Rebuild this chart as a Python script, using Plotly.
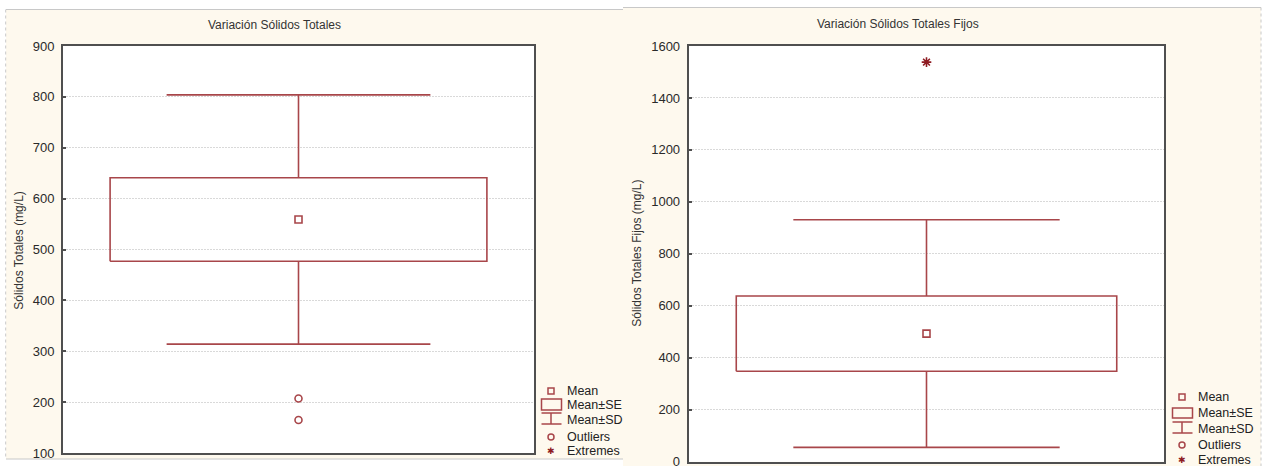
import plotly.graph_objects as go

W, H = 1270, 466

# ---------------- data ----------------
categories = ["Sólidos Totales", "Sólidos Totales Fijos"]
titles = ["Variación Sólidos Totales", "Variación Sólidos Totales Fijos"]
ytitles = ["Sólidos Totales (mg/L)", "Sólidos Totales Fijos (mg/L)"]
means = [559, 493]
se = [82, 145]
sd = [245, 438]
outliers = [[207, 165], []]
extremes = [[], [1538]]
yranges = [[100, 900], [0, 1600]]
ydticks = [100, 200]
legend_labels = ["Mean", "Mean±SE", "Mean±SD", "Outliers", "Extremes"]

RED = "#A8464A"
DARKRED = "#8E1B22"
CREAM = "#FEF9EE"
FONT = "Liberation Sans, Arial, sans-serif"


def px(x):
    return x / W


def py(y):
    return 1 - y / H


fig = go.Figure()

BOX_HW = 0.40
CAP_HW = 0.28

for i in range(2):
    xa = "x" if i == 0 else "x2"
    ya = "y" if i == 0 else "y2"
    m, s, d = means[i], se[i], sd[i]
    fig.add_trace(go.Scatter(
        x=[-BOX_HW, BOX_HW, BOX_HW, -BOX_HW, -BOX_HW],
        y=[m - s, m - s, m + s, m + s, m - s],
        mode="lines", line=dict(color=RED, width=1.6),
        xaxis=xa, yaxis=ya, hoverinfo="skip", name=categories[i]))
    fig.add_trace(go.Scatter(
        x=[0, 0, None, -CAP_HW, CAP_HW, None, 0, 0, None, -CAP_HW, CAP_HW],
        y=[m + s, m + d, None, m + d, m + d, None, m - s, m - d, None, m - d, m - d],
        mode="lines", line=dict(color=RED, width=1.6),
        xaxis=xa, yaxis=ya, hoverinfo="skip", name=categories[i]))
    fig.add_trace(go.Scatter(
        x=[0], y=[m], mode="markers",
        marker=dict(symbol="square-open", size=7, color=RED, line=dict(width=1.6, color=RED)),
        xaxis=xa, yaxis=ya, name=categories[i]))
    if outliers[i]:
        fig.add_trace(go.Scatter(
            x=[0] * len(outliers[i]), y=outliers[i], mode="markers",
            marker=dict(symbol="circle-open", size=7, color=RED, line=dict(width=1.6, color=RED)),
            xaxis=xa, yaxis=ya, name=categories[i]))
    if extremes[i]:
        fig.add_trace(go.Scatter(
            x=[0] * len(extremes[i]), y=extremes[i], mode="markers",
            marker=dict(symbol="asterisk-open", size=8, color=DARKRED, line=dict(width=1.6, color=DARKRED)),
            xaxis=xa, yaxis=ya, name=categories[i]))

shapes = []
annotations = []

# panel backgrounds
shapes.append(dict(type="rect", xref="paper", yref="paper", layer="below",
                   x0=px(6), x1=px(623), y0=py(459), y1=py(9.5),
                   fillcolor=CREAM, line=dict(width=0)))
shapes.append(dict(type="rect", xref="paper", yref="paper", layer="below",
                   x0=px(623), x1=px(1261), y0=py(470), y1=py(7.5),
                   fillcolor=CREAM, line=dict(width=0)))
# white plot areas
shapes.append(dict(type="rect", xref="paper", yref="paper", layer="below",
                   x0=px(63), x1=px(534), y0=py(453), y1=py(46),
                   fillcolor="white", line=dict(width=0)))
shapes.append(dict(type="rect", xref="paper", yref="paper", layer="below",
                   x0=px(688.7), x1=px(1164.3), y0=py(461.7), y1=py(46),
                   fillcolor="white", line=dict(width=0)))
# panel borders
for (x0, y0, x1, y1, dash) in [
    (6, 9.5, 623, 9.5, "solid"), (5.7, 9.5, 5.7, 459, "dot"), (6, 459, 623, 459, "solid"),
    (623, 7.5, 1261, 7.5, "solid"), (1261, 7.5, 1261, 466, "dot")]:
    shapes.append(dict(type="line", xref="paper", yref="paper", layer="below",
                       x0=px(x0), x1=px(x1), y0=py(y0), y1=py(y1),
                       line=dict(color="#C8C8C8", width=1, dash=dash)))

annotations.append(dict(text=titles[0], x=px(274.5), y=py(25), xref="paper", yref="paper",
                        showarrow=False, xanchor="center", yanchor="middle",
                        font=dict(family=FONT, size=12, color="#333")))
annotations.append(dict(text=titles[1], x=px(897.7), y=py(24), xref="paper", yref="paper",
                        showarrow=False, xanchor="center", yanchor="middle",
                        font=dict(family=FONT, size=12, color="#333")))
annotations.append(dict(text=ytitles[0], x=px(18.7), y=py(250), xref="paper", yref="paper",
                        showarrow=False, textangle=-90, xanchor="center", yanchor="middle",
                        font=dict(family=FONT, size=12, color="#333")))
annotations.append(dict(text=ytitles[1], x=px(636.7), y=py(253), xref="paper", yref="paper",
                        showarrow=False, textangle=-90, xanchor="center", yanchor="middle",
                        font=dict(family=FONT, size=12, color="#333")))


def add_legend(sx, text_x, ys, se_box, sd_sym):
    shapes.append(dict(type="rect", xref="paper", yref="paper",
                       x0=px(sx - 3), x1=px(sx + 3), y0=py(ys[0] + 3), y1=py(ys[0] - 3),
                       line=dict(color=RED, width=1.5)))
    bx0, bx1, by0, by1 = se_box
    shapes.append(dict(type="rect", xref="paper", yref="paper",
                       x0=px(bx0), x1=px(bx1), y0=py(by1), y1=py(by0),
                       line=dict(color=RED, width=1.5)))
    t, b = sd_sym
    shapes.append(dict(type="line", xref="paper", yref="paper",
                       x0=px(bx0), x1=px(bx1), y0=py(t), y1=py(t), line=dict(color=RED, width=1.5)))
    shapes.append(dict(type="line", xref="paper", yref="paper",
                       x0=px(bx0), x1=px(bx1), y0=py(b), y1=py(b), line=dict(color=RED, width=1.5)))
    shapes.append(dict(type="line", xref="paper", yref="paper",
                       x0=px(sx), x1=px(sx), y0=py(t), y1=py(b), line=dict(color=RED, width=1.5)))
    shapes.append(dict(type="circle", xref="paper", yref="paper",
                       x0=px(sx - 3), x1=px(sx + 3), y0=py(ys[3] + 3), y1=py(ys[3] - 3),
                       line=dict(color=RED, width=1.5)))
    annotations.append(dict(text="✱", x=px(sx), y=py(ys[4]), xref="paper", yref="paper",
                            showarrow=False, xanchor="center", yanchor="middle",
                            font=dict(family="DejaVu Sans", size=9, color=DARKRED)))
    for lab, yy in zip(legend_labels, ys):
        annotations.append(dict(text=lab, x=px(text_x), y=py(yy), xref="paper", yref="paper",
                                showarrow=False, xanchor="left", yanchor="middle",
                                font=dict(family=FONT, size=12.5, color="#222")))


add_legend(551, 565, [391, 405, 420, 437, 451], (541.5, 561.5, 399, 410), (413, 424))
add_legend(1182, 1196, [397, 413, 429, 445, 460], (1172.5, 1192.5, 408, 418), (422, 433))

axis_common = dict(showline=True, mirror=True, linecolor="#4F4F4F", linewidth=2, zeroline=False,
                   automargin=False)
yaxis_common = dict(showgrid=True, gridcolor="#D9D9D9", griddash="2px,1px", gridwidth=1,
                    ticks="inside", ticklen=3, tickcolor="#4F4F4F", tickwidth=1.5,
                    ticklabelstandoff=4, ticklabeloverflow="allow",
                    tickfont=dict(family=FONT, size=13, color="#2A2A2A"))

fig.update_layout(
    width=W, height=H, autosize=False,
    margin=dict(l=0, r=0, t=0, b=0, pad=0),
    paper_bgcolor="white", plot_bgcolor="white",
    showlegend=False,
    shapes=shapes, annotations=annotations,
    xaxis=dict(domain=[px(63), px(534)], range=[-0.5, 0.5], showticklabels=False,
               showgrid=False, ticks="", fixedrange=True, anchor="y", **axis_common),
    yaxis=dict(domain=[py(453), py(46)], range=yranges[0], dtick=ydticks[0], anchor="x",
               **yaxis_common, **axis_common),
    xaxis2=dict(domain=[px(688.7), px(1164.3)], range=[-0.5, 0.5], showticklabels=False,
                showgrid=False, ticks="", fixedrange=True, anchor="y2", **axis_common),
    yaxis2=dict(domain=[py(461.7), py(46)], range=yranges[1], dtick=ydticks[1], anchor="x2",
                **yaxis_common, **axis_common),
)

fig.write_html("out.html")
